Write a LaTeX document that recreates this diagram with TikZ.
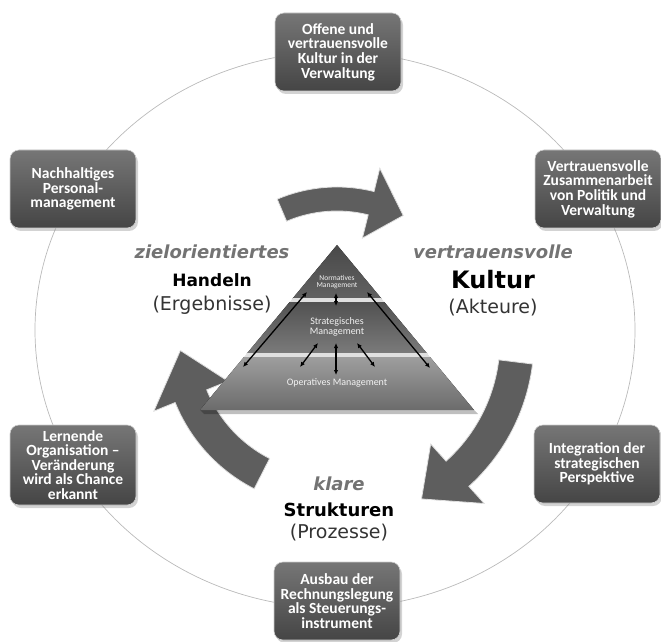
\documentclass[tikz,border=0pt]{standalone}
\usepackage{fontspec}
\setmainfont{DejaVu Sans}
\newfontfamily\kastenfont{Carlito}
\usetikzlibrary{calc,shadows,arrows.meta}

\definecolor{kastenoben}{HTML}{767676}
\definecolor{kastenunten}{HTML}{454545}
\definecolor{pfeilgrau}{HTML}{5E5E5E}
\definecolor{schrift}{HTML}{737373}

\tikzset{
  kasten/.style={rounded corners=9pt, minimum width=126pt, minimum height=78pt,
    align=center, text=white, top color=kastenoben, bottom color=kastenunten,
    draw=gray!40, line width=0.6pt, inner sep=1pt,
    drop shadow={shadow xshift=2pt, shadow yshift=-3pt, opacity=0.35},
    font=\kastenfont\bfseries\fontsize{15.5}{14.6}\selectfont},
  ebene/.style={text=white!90!gray, align=center, font=\kastenfont\fontsize{#1}{#1}\selectfont},
  kursiv/.style={text=schrift, font=\bfseries\itshape\fontsize{18}{20}\selectfont},
  fett/.style={font=\bfseries\fontsize{#1}{#1}\selectfont},
  klammer/.style={text=black!80, font=\fontsize{19}{20}\selectfont},
  doppelpfeil/.style={{Latex[length=5pt,width=4.5pt]}-{Latex[length=5pt,width=4.5pt]}, line width=1.3pt},
  grosspfeil/.style={fill=pfeilgrau, draw=white!75!gray, line width=0.8pt}
}

% cx, cy, radius, half width, half head width, start, head, tip
\newcommand{\kreispfeil}[8]{%
  \begin{scope}[shift={(#1,#2)}]
    \filldraw[grosspfeil] (#6:{#3+#4}) arc (#6:#7:{#3pt+#4pt}) -- (#7:{#3+#5})
      -- (#8:#3) -- (#7:{#3-#5}) -- (#7:{#3-#4}) arc (#7:#6:{#3pt-#4pt}) -- cycle;
  \end{scope}}

\begin{document}
\begin{tikzpicture}[x=1pt, y=1pt]
\useasboundingbox (0,0) rectangle (661,641);
\draw[gray!55, line width=0.7pt] (335,311) ellipse [x radius=300pt, y radius=278pt];

\kreispfeil{337}{301}{141}{12}{36}{113}{76}{62}
\kreispfeil{337}{301}{180}{17}{40}{-7}{-48}{-62}
\kreispfeil{330}{301}{150}{17}{40}{243}{202}{184}

% Pyramide
\coordinate (spitze) at (337,396);
\coordinate (basisL) at (200,231);
\coordinate (basisR) at (474,231);
\fill[black, opacity=0.25] (204,227) -- (478,227) -- (474,231) -- (200,231) -- cycle;
\begin{scope}
\clip (spitze) -- (basisL) -- (basisR) -- cycle;
\fill[top color=black!72, bottom color=black!62] (190,343) rectangle (484,400);
\fill[black!12] (190,339) rectangle (484,343);
\fill[top color=black!68, bottom color=black!52] (190,288) rectangle (484,339);
\fill[black!12] (190,284) rectangle (484,288);
\fill[top color=black!38, bottom color=black!58] (190,231) rectangle (484,284);
\end{scope}

\node[ebene=7.5] (normativ) at (337,359) {Normatives\\Management};
\node[ebene=10] (strategisch) at (337,314) {Strategisches\\Management};
\node[ebene=10] (operativ) at (337,258) {Operatives Management};

\coordinate (n1) at (336,348); \coordinate (s1) at (336,335);
\coordinate (n2) at (307,349); \coordinate (o2) at (243,274);
\coordinate (n3) at (367,349); \coordinate (o3) at (430,273);
\coordinate (s4) at (336,298); \coordinate (o4) at (336,266);
\coordinate (s5) at (318,298); \coordinate (o5) at (300,274);
\coordinate (s6) at (357,298); \coordinate (o6) at (375,274);
\foreach \a/\b in {n1/s1, n2/o2, n3/o3, s4/o4, s5/o5, s6/o6}
  \draw[doppelpfeil] (\a) -- (\b);

% Leitbegriffe
\node[kursiv] (ziel) at (212,389) {zielorientiertes};
\node[fett=17] (handeln) at (212,361) {Handeln};
\node[klammer] (ergebnis) at (212,336) {(Ergebnisse)};
\node[kursiv] (vertrauen) at (493,389) {vertrauensvolle};
\node[fett=24] (kultur) at (493,361) {Kultur};
\node[klammer] (akteure) at (493,333) {(Akteure)};
\node[kursiv] (klar) at (339,157) {klare};
\node[fett=18] (struktur) at (339,131) {Strukturen};
\node[klammer] (prozess) at (339,108) {(Prozesse)};

% Kaesten
\node[kasten] (offen) at (338,589) {Offene und\\vertrauensvolle\\Kultur in der\\Verwaltung};
\node[kasten] (personal) at (73,452) {Nachhaltiges\\Personal-\\management};
\node[kasten] (politik) at (598,452) {Vertrauensvolle\\Zusammenarbeit\\von Politik und\\Verwaltung};
\node[kasten, minimum height=80pt] (lernen) at (73,176) {Lernende\\Organisation –\\Veränderung\\wird als Chance\\erkannt};
\node[kasten] (strategie) at (597,177) {Integration der\\strategischen\\Perspektive};
\node[kasten] (rechnung) at (337,40) {Ausbau der\\Rechnungslegung\\als Steuerungs-\\instrument};
\end{tikzpicture}
\end{document}
